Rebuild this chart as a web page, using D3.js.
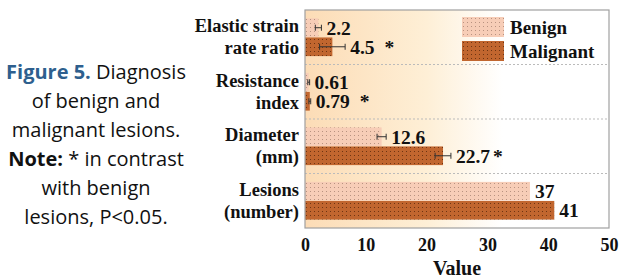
<!DOCTYPE html>
<html>
<head>
<meta charset="utf-8">
<script src="https://cdn.jsdelivr.net/npm/d3@7"></script>
<style>
  body { margin: 0; background: #fff; }
  svg { display: block; }
</style>
</head>
<body>
<div id="chart"></div>
<script>
// Data
const categories = ["Elastic strain|rate ratio", "Resistance|index", "Diameter|(mm)", "Lesions|(number)"];
const seriesNames = ["Benign", "Malignant"];
const benign = [2.2, 0.61, 12.6, 37];
const malignant = [4.5, 0.79, 22.7, 41];
const benignErr = [0.5, 0.15, 0.75, 0];
const malignantErr = [2.1, 0.15, 1.3, 0];
const malignantSig = [true, true, true, false];
const xTicks = [0, 10, 20, 30, 40, 50];
const captionLines = [
    [{ t: "Figure 5.", b: true, c: "#2e5f8e" }, { t: " Diagnosis" }],
    [{ t: "of benign and" }],
    [{ t: "malignant lesions." }],
    [{ t: "Note:", b: true }, { t: " * in contrast" }],
    [{ t: "with benign" }],
    [{ t: "lesions, P<0.05." }]
];

const W = 619, H = 280;
const margin = { top: 10, right: 10, bottom: 52, left: 305 };
const width = W - margin.left - margin.right;
const height = H - margin.top - margin.bottom;

const svg = d3.select("#chart").append("svg")
    .attr("width", W)
    .attr("height", H);

const defs = svg.append("defs");

const grad = defs.append("linearGradient")
    .attr("id", "bg")
    .attr("x1", "0").attr("x2", "1").attr("y1", "0").attr("y2", "0");
grad.append("stop").attr("offset", "0%").attr("stop-color", "#fcdcb6");
grad.append("stop").attr("offset", "40%").attr("stop-color", "#feefd6");
grad.append("stop").attr("offset", "65%").attr("stop-color", "#ffffff");
grad.append("stop").attr("offset", "100%").attr("stop-color", "#ffffff");

function dotPattern(id, bg, dot) {
    const p = defs.append("pattern")
        .attr("id", id)
        .attr("patternUnits", "userSpaceOnUse")
        .attr("width", 4).attr("height", 4);
    p.append("rect").attr("width", 4).attr("height", 4).attr("fill", bg);
    p.append("rect").attr("x", 1).attr("y", 1).attr("width", 1).attr("height", 1).attr("fill", dot);
}
dotPattern("dotsB", "#f7cdb7", "#b89280");
dotPattern("dotsM", "#c1662f", "#6e3412");
const fills = ["url(#dotsB)", "url(#dotsM)"];

// Caption on the left
const cap = svg.append("text")
    .attr("text-anchor", "middle")
    .style("font-family", "'Open Sans', 'Noto Sans', sans-serif")
    .style("font-size", "20px")
    .attr("fill", "#111");
captionLines.forEach((line, i) => {
    const t = cap.append("tspan").attr("x", 96).attr("y", 79 + i * 29);
    line.forEach(seg => {
        t.append("tspan")
            .text(seg.t)
            .style("font-weight", seg.b ? "bold" : "normal")
            .attr("fill", seg.c || "#111");
    });
});

const g = svg.append("g")
    .attr("transform", `translate(${margin.left}, ${margin.top})`);

const x = d3.scaleLinear().domain([0, 50]).range([0, width]);
const y = d3.scaleBand().domain(categories).range([0, height]).paddingInner(0).paddingOuter(0);
const inner = d3.scaleBand().domain(seriesNames).range([8, y.bandwidth() - 8]).padding(0.02);

g.append("rect")
    .attr("width", width).attr("height", height)
    .attr("fill", "url(#bg)");

// dashed separators
g.selectAll(".sep")
    .data(categories.slice(1))
    .enter().append("line")
    .attr("x1", 0).attr("x2", width)
    .attr("y1", d => y(d)).attr("y2", d => y(d))
    .attr("stroke", "#bbb")
    .attr("stroke-dasharray", "2,2");

const rows = categories.map((c, i) => [
    { cat: c, s: 0, v: benign[i], e: benignErr[i], sig: false },
    { cat: c, s: 1, v: malignant[i], e: malignantErr[i], sig: malignantSig[i] }
]).flat();

g.selectAll(".bar")
    .data(rows)
    .enter().append("rect")
    .attr("class", "bar")
    .attr("x", 0)
    .attr("y", d => y(d.cat) + inner(seriesNames[d.s]))
    .attr("width", d => x(d.v))
    .attr("height", inner.bandwidth())
    .attr("fill", d => fills[d.s]);

// error bars
const errRows = rows.filter(d => d.e > 0);
const eb = g.selectAll(".err")
    .data(errRows)
    .enter().append("g")
    .attr("transform", d => `translate(0, ${y(d.cat) + inner(seriesNames[d.s]) + inner.bandwidth() / 2})`);
eb.append("line")
    .attr("x1", d => x(d.v - d.e)).attr("x2", d => x(d.v + d.e))
    .attr("stroke", "#333").attr("stroke-width", 1);
eb.append("line")
    .attr("x1", d => x(d.v - d.e)).attr("x2", d => x(d.v - d.e))
    .attr("y1", -3).attr("y2", 3)
    .attr("stroke", "#333");
eb.append("line")
    .attr("x1", d => x(d.v + d.e)).attr("x2", d => x(d.v + d.e))
    .attr("y1", -3).attr("y2", 3)
    .attr("stroke", "#333");

// value labels
const serif = "'Liberation Serif', 'Times New Roman', serif";
const labels = g.selectAll(".val")
    .data(rows)
    .enter().append("text")
    .attr("x", d => x(d.v + d.e) + 5)
    .attr("y", d => y(d.cat) + inner(seriesNames[d.s]) + inner.bandwidth() / 2)
    .attr("dy", "0.35em")
    .style("font-family", serif)
    .style("font-weight", "bold")
    .style("font-size", "19.5px")
    .attr("fill", "#111")
    .text(d => d.v);
labels.filter(d => d.sig)
    .append("tspan")
    .attr("dx", d => d.v === 22.7 ? 3 : 10)
    .text("*");

// plot border
g.append("rect")
    .attr("width", width).attr("height", height)
    .attr("fill", "none")
    .attr("stroke", "#a0a0a0")
    .attr("stroke-width", 1.2);

// category labels
const catText = svg.append("g")
    .selectAll("text")
    .data(categories)
    .enter().append("text")
    .attr("text-anchor", "end")
    .style("font-family", serif)
    .style("font-weight", "bold")
    .style("font-size", "18.5px")
    .attr("fill", "#111");
catText.each(function(d) {
    const parts = d.split("|");
    const yc = margin.top + y(d) + y.bandwidth() / 2;
    parts.forEach((p, k) => {
        d3.select(this).append("tspan")
            .attr("x", 299)
            .attr("y", yc - 5 + k * 22)
            .text(p);
    });
});

// x axis
const xAxis = g.append("g")
    .attr("transform", `translate(0, ${height})`)
    .call(d3.axisBottom(x).tickValues(xTicks).tickSize(0).tickPadding(10));
xAxis.select(".domain").remove();
xAxis.selectAll("text")
    .style("font-family", serif)
    .style("font-weight", "bold")
    .style("font-size", "18px")
    .attr("fill", "#111");

svg.append("text")
    .attr("x", margin.left + width / 2)
    .attr("y", 275)
    .attr("text-anchor", "middle")
    .style("font-family", serif)
    .style("font-weight", "bold")
    .style("font-size", "20px")
    .attr("fill", "#111")
    .text("Value");

// legend
const legend = svg.append("g")
    .attr("transform", "translate(462, 17)");
const li = legend.selectAll("g")
    .data(seriesNames)
    .enter().append("g")
    .attr("transform", (d, i) => `translate(0, ${i * 24})`);
li.append("rect")
    .attr("width", 42).attr("height", 20)
    .attr("fill", (d, i) => fills[i]);
li.append("text")
    .attr("x", 48).attr("y", 10)
    .attr("dy", "0.35em")
    .style("font-family", serif)
    .style("font-weight", "bold")
    .style("font-size", "19px")
    .attr("fill", "#111")
    .text(d => d);
</script>
</body>
</html>
